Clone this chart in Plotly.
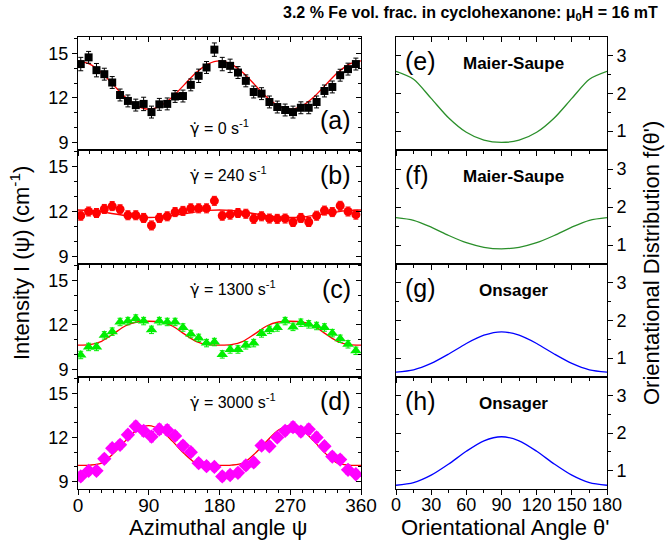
import plotly.graph_objects as go

# ---------------- data ----------------
psi = [3.5, 13.5, 23.5, 33.5, 43.5, 53.5, 63.5, 73.5, 83.5, 93.5, 103.5, 113.5,
       123.5, 133.5, 143.5, 153.5, 163.5, 173.5, 183.5, 193.5, 203.5, 213.5, 223.5, 233.5,
       243.5, 253.5, 263.5, 273.5, 283.5, 293.5, 303.5, 313.5, 323.5, 333.5, 343.5, 353.5]

I_a = [14.28, 14.73, 13.87, 13.6, 13.04, 12.2, 11.8, 11.52, 11.6, 11.05, 11.57, 11.6,
       12.1, 12.13, 12.88, 13.49, 14.05, 15.25, 14.28, 14.16, 13.71, 13.15, 12.4, 12.29,
       11.73, 11.39, 11.19, 11.05, 11.34, 11.34, 11.73, 12.47, 12.74, 13.53, 13.94, 14.28]
err_a = [0.45, 0.4, 0.45, 0.4, 0.4, 0.4, 0.4, 0.4, 0.45, 0.4, 0.4, 0.4,
         0.4, 0.4, 0.4, 0.45, 0.4, 0.45, 0.45, 0.45, 0.4, 0.4, 0.4, 0.4,
         0.4, 0.4, 0.4, 0.4, 0.4, 0.4, 0.4, 0.4, 0.4, 0.4, 0.4, 0.4]

I_b = [11.72, 12.0, 11.9, 12.17, 12.36, 12.15, 11.75, 11.75, 11.57, 11.07, 11.57, 11.68,
       11.96, 12.04, 12.21, 12.21, 12.21, 12.71, 11.72, 11.79, 11.9, 11.85, 11.51, 11.68,
       11.53, 11.51, 11.53, 11.3, 11.57, 11.3, 11.72, 12.06, 11.96, 12.38, 12.0, 11.79]
err_b = [0.3, 0.3, 0.3, 0.3, 0.3, 0.3, 0.3, 0.3, 0.3, 0.3, 0.3, 0.3,
         0.3, 0.3, 0.3, 0.3, 0.3, 0.3, 0.3, 0.3, 0.3, 0.3, 0.3, 0.3,
         0.3, 0.3, 0.3, 0.3, 0.3, 0.3, 0.3, 0.3, 0.3, 0.3, 0.3, 0.3]

I_c = [9.98, 10.52, 10.52, 11.3, 11.55, 12.2, 12.26, 12.43, 12.26, 11.67, 12.26, 12.2,
       12.2, 11.83, 11.39, 11.13, 10.78, 10.85, 10.02, 10.35, 10.35, 10.63, 10.78, 11.43,
       11.67, 11.83, 12.26, 11.87, 12.15, 12.04, 11.93, 11.83, 11.45, 11.07, 10.7, 10.26]
err_c = [0.25, 0.25, 0.25, 0.25, 0.25, 0.25, 0.25, 0.25, 0.25, 0.25, 0.25, 0.25,
         0.25, 0.25, 0.25, 0.25, 0.25, 0.25, 0.25, 0.25, 0.25, 0.25, 0.25, 0.25,
         0.25, 0.25, 0.25, 0.25, 0.25, 0.25, 0.25, 0.25, 0.25, 0.25, 0.25, 0.25]

I_d = [9.35, 9.73, 9.73, 10.55, 11.27, 11.5, 12.18, 12.75, 12.45, 12.05, 12.55, 12.5,
       12.1, 11.45, 11.0, 10.25, 10.05, 10.0, 9.35, 9.45, 9.6, 10.1, 10.3, 11.45,
       11.4, 12.0, 12.45, 12.7, 12.4, 12.55, 12.0, 11.4, 10.7, 10.5, 9.8, 9.5]
err_d = [0.3, 0.3, 0.3, 0.3, 0.3, 0.3, 0.3, 0.35, 0.35, 0.35, 0.35, 0.35,
         0.3, 0.3, 0.3, 0.3, 0.3, 0.3, 0.3, 0.3, 0.3, 0.3, 0.3, 0.3,
         0.3, 0.3, 0.3, 0.35, 0.35, 0.35, 0.35, 0.3, 0.3, 0.3, 0.3, 0.3]

psi_fit = [0, 15, 30, 45, 60, 75, 90, 105, 120, 135, 150, 165, 180,
           195, 210, 225, 240, 255, 270, 285, 300, 315, 330, 345, 360]
fit_a = [14.5, 14.28, 13.69, 12.88, 12.06, 11.47, 11.25, 11.47, 12.06, 12.88, 13.69, 14.28, 14.5,
         14.28, 13.69, 12.88, 12.06, 11.47, 11.25, 11.47, 12.06, 12.88, 13.69, 14.28, 14.5]
fit_b = [12.1, 12.07, 11.98, 11.85, 11.73, 11.63, 11.6, 11.63, 11.73, 11.85, 11.98, 12.07, 12.1,
         12.07, 11.98, 11.85, 11.73, 11.63, 11.6, 11.63, 11.73, 11.85, 11.98, 12.07, 12.1]
fit_c = [10.65, 10.68, 10.9, 11.4, 11.93, 12.2, 12.25, 12.2, 11.93, 11.4, 10.9, 10.68, 10.65,
         10.68, 10.9, 11.4, 11.93, 12.2, 12.25, 12.2, 11.93, 11.4, 10.9, 10.68, 10.65]
fit_d = [10.1, 10.12, 10.25, 10.9, 11.75, 12.5, 12.8, 12.5, 11.75, 10.9, 10.25, 10.12, 10.1,
         10.12, 10.25, 10.9, 11.75, 12.5, 12.8, 12.5, 11.75, 10.9, 10.25, 10.12, 10.1]

theta = [0, 15, 30, 45, 60, 75, 90, 105, 120, 135, 150, 165, 180]
dist_e = [2.59, 2.38, 1.87, 1.35, 0.97, 0.76, 0.70, 0.76, 0.97, 1.35, 1.87, 2.38, 2.59]
dist_f = [1.72, 1.65, 1.47, 1.25, 1.06, 0.94, 0.90, 0.94, 1.06, 1.25, 1.47, 1.65, 1.72]
dist_g = [0.63, 0.69, 0.86, 1.11, 1.39, 1.61, 1.70, 1.61, 1.39, 1.11, 0.86, 0.69, 0.63]
dist_h = [0.60, 0.67, 0.87, 1.17, 1.51, 1.79, 1.90, 1.79, 1.51, 1.17, 0.87, 0.67, 0.60]

GAMMA_DOT = "<span style='font-family:DejaVu Sans'>γ̇</span>"
shear_labels = [GAMMA_DOT + " = 0 s<sup>-1</sup>", GAMMA_DOT + " = 240 s<sup>-1</sup>",
                GAMMA_DOT + " = 1300 s<sup>-1</sup>", GAMMA_DOT + " = 3000 s<sup>-1</sup>"]
panel_left = ["(a)", "(b)", "(c)", "(d)"]
panel_right = ["(e)", "(f)", "(g)", "(h)"]
model_names = ["Maier-Saupe", "Maier-Saupe", "Onsager", "Onsager"]

# ---------------- styling ----------------
FONT = "Liberation Sans, Arial, sans-serif"
W, H = 667, 542
rows_px = [(37, 150), (150, 264), (264, 377), (377, 489)]
left_px = (78, 361)
right_px = (396, 607)

def fx(px):
    return px / W

def fy(px):
    return 1 - px / H

fig = go.Figure()

series = [(I_a, err_a, fit_a, "black", "square", 8),
          (I_b, err_b, fit_b, "#ff0000", "circle", 9),
          (I_c, err_c, fit_c, "#00ee00", "triangle-up", 10),
          (I_d, err_d, fit_d, "#ff00ff", "diamond", 11)]
dists = [(dist_e, "#2a8f2a"), (dist_f, "#2a8f2a"), (dist_g, "#0000ff"), (dist_h, "#0000ff")]

layout = dict(width=W, height=H, margin=dict(l=0, r=0, t=0, b=0, autoexpand=False),
              paper_bgcolor="white", plot_bgcolor="white", showlegend=False,
              font=dict(family=FONT, color="black"))

annotations = []

def axname(n):
    return "" if n == 1 else str(n)

for i in range(4):
    top, bot = rows_px[i]
    ydom = [fy(bot), fy(top)]
    last = (i == 3)
    # ---------- left panel ----------
    k = i + 1
    vals, errs, fit, col, sym, size = series[i]
    fig.add_trace(go.Scatter(x=psi_fit, y=fit, mode="lines",
                             line=dict(color="#ff0000", width=1.3, shape="spline", smoothing=0.8),
                             xaxis="x" + axname(k), yaxis="y" + axname(k), hoverinfo="skip"))
    fig.add_trace(go.Scatter(x=psi, y=vals, mode="markers",
                             marker=dict(color=col, symbol=sym, size=size, line=dict(width=0)),
                             error_y=dict(type="data", array=errs, color=col, thickness=1, width=2.5),
                             xaxis="x" + axname(k), yaxis="y" + axname(k)))
    layout["xaxis" + axname(k)] = dict(
        domain=[fx(left_px[0]), fx(left_px[1])], anchor="y" + axname(k), range=[0, 360],
        tick0=0, dtick=90, showticklabels=last, ticks="outside", ticklen=5, tickwidth=1, tickcolor="black",
        minor=dict(dtick=15, tick0=0, ticks="outside", ticklen=3, tickcolor="black"),
        showline=True, linecolor="black", linewidth=1, mirror=True, showgrid=False, zeroline=False,
        ticklabelstandoff=-6,
        tickfont=dict(size=19, family=FONT, color="black"), fixedrange=True, automargin=False)
    layout["yaxis" + axname(k)] = dict(
        domain=ydom, anchor="x" + axname(k), range=[8.5, 16.1],
        tickvals=[9, 12, 15], ticks="outside", ticklen=5, tickwidth=1, tickcolor="black",
        minor=dict(tickvals=[10, 11, 13, 14, 16], ticks="outside", ticklen=3, tickcolor="black"),
        showline=True, linecolor="black", linewidth=1, mirror=True, showgrid=False, zeroline=False,
        tickfont=dict(size=18, family=FONT, color="black"), fixedrange=True, automargin=False)
    ko = k + 8
    layout["xaxis" + str(ko)] = dict(
        overlaying="x" + axname(k), side="top", anchor="y" + axname(k), range=[0, 360],
        tick0=0, dtick=90, showticklabels=False, ticks="inside", ticklen=5, tickcolor="black",
        minor=dict(dtick=15, tick0=0, ticks="inside", ticklen=3, tickcolor="black"),
        showline=False, showgrid=False, zeroline=False, fixedrange=True)
    layout["yaxis" + str(ko)] = dict(
        overlaying="y" + axname(k), side="right", anchor="x" + axname(k), range=[8.5, 16.1],
        tickvals=[9, 12, 15], showticklabels=False, ticks="inside", ticklen=5, tickcolor="black",
        minor=dict(tickvals=[10, 11, 13, 14, 16], ticks="inside", ticklen=3, tickcolor="black"),
        showline=False, showgrid=False, zeroline=False, fixedrange=True)
    fig.add_trace(go.Scatter(x=[None], y=[None], xaxis="x" + str(ko), yaxis="y" + axname(k),
                             showlegend=False, hoverinfo="skip"))
    fig.add_trace(go.Scatter(x=[None], y=[None], xaxis="x" + axname(k), yaxis="y" + str(ko),
                             showlegend=False, hoverinfo="skip"))

    lab_y = 10.5 if i == 0 else 14.45
    gam_y = 10.0 if i == 0 else 14.45
    annotations.append(dict(x=350, y=lab_y, xref="x" + axname(k), yref="y" + axname(k), text=panel_left[i],
                            showarrow=False, xanchor="right", yanchor="middle", font=dict(size=25, family=FONT)))
    annotations.append(dict(x=140, y=gam_y, xref="x" + axname(k), yref="y" + axname(k), text=shear_labels[i],
                            showarrow=False, xanchor="left", yanchor="middle", font=dict(size=16, family=FONT)))

    # ---------- right panel ----------
    k2 = i + 5
    dvals, dcol = dists[i]
    fig.add_trace(go.Scatter(x=theta, y=dvals, mode="lines",
                             line=dict(color=dcol, width=1.3, shape="spline", smoothing=0.8),
                             xaxis="x" + str(k2), yaxis="y" + str(k2), hoverinfo="skip"))
    layout["xaxis" + str(k2)] = dict(
        domain=[fx(right_px[0]), fx(right_px[1])], anchor="y" + str(k2), range=[0, 180],
        tick0=0, dtick=30, showticklabels=last, ticks="outside", ticklen=5, tickwidth=1, tickcolor="black",
        minor=dict(dtick=15, tick0=0, ticks="outside", ticklen=3, tickcolor="black"),
        showline=True, linecolor="black", linewidth=1, mirror=True, showgrid=False, zeroline=False,
        ticklabelstandoff=-6,
        tickfont=dict(size=18, family=FONT, color="black"), fixedrange=True, automargin=False)
    layout["yaxis" + str(k2)] = dict(
        domain=ydom, anchor="x" + str(k2), range=[0.5, 3.5], side="right",
        tickvals=[1, 2, 3], ticks="outside", ticklen=5, tickwidth=1, tickcolor="black",
        minor=dict(tickvals=[1.5, 2.5], ticks="outside", ticklen=3, tickcolor="black"),
        showline=True, linecolor="black", linewidth=1, mirror=True, showgrid=False, zeroline=False,
        tickfont=dict(size=18, family=FONT, color="black"), fixedrange=True, automargin=False)
    ko2 = k2 + 8
    layout["xaxis" + str(ko2)] = dict(
        overlaying="x" + str(k2), side="top", anchor="y" + str(k2), range=[0, 180],
        tick0=0, dtick=30, showticklabels=False, ticks="inside", ticklen=5, tickcolor="black",
        minor=dict(dtick=15, tick0=0, ticks="inside", ticklen=3, tickcolor="black"),
        showline=False, showgrid=False, zeroline=False, fixedrange=True)
    layout["yaxis" + str(ko2)] = dict(
        overlaying="y" + str(k2), side="left", anchor="x" + str(k2), range=[0.5, 3.5],
        tickvals=[1, 2, 3], showticklabels=False, ticks="inside", ticklen=5, tickcolor="black",
        minor=dict(tickvals=[1.5, 2.5], ticks="inside", ticklen=3, tickcolor="black"),
        showline=False, showgrid=False, zeroline=False, fixedrange=True)
    fig.add_trace(go.Scatter(x=[None], y=[None], xaxis="x" + str(ko2), yaxis="y" + str(k2),
                             showlegend=False, hoverinfo="skip"))
    fig.add_trace(go.Scatter(x=[None], y=[None], xaxis="x" + str(k2), yaxis="y" + str(ko2),
                             showlegend=False, hoverinfo="skip"))

    annotations.append(dict(x=6, y=2.85, xref="x" + str(k2), yref="y" + str(k2), text=panel_right[i],
                            showarrow=False, xanchor="left", yanchor="middle", font=dict(size=25, family=FONT)))
    annotations.append(dict(x=100, y=2.8, xref="x" + str(k2), yref="y" + str(k2),
                            text="<b>" + model_names[i] + "</b>",
                            showarrow=False, xanchor="center", yanchor="middle", font=dict(size=17, family=FONT)))

annotations += [
    dict(x=fx(660), y=fy(14), xref="paper", yref="paper", xanchor="right", yanchor="middle", showarrow=False,
         text="<b>3.2 % Fe vol. frac. in cyclohexanone: μ<sub>0</sub>H = 16 mT</b>", font=dict(size=16, family=FONT)),
    dict(x=fx(20), y=fy(263), xref="paper", yref="paper", xanchor="center", yanchor="middle", showarrow=False,
         textangle=-90, text="Intensity I (ψ) (cm<sup>-1</sup>)", font=dict(size=22, family=FONT)),
    dict(x=fx(651), y=fy(263), xref="paper", yref="paper", xanchor="center", yanchor="middle", showarrow=False,
         textangle=-90, text="Orientational Distribution f(θ')", font=dict(size=22, family=FONT)),
    dict(x=fx(218), y=fy(527), xref="paper", yref="paper", xanchor="center", yanchor="middle", showarrow=False,
         text="Azimuthal angle ψ", font=dict(size=22, family=FONT)),
    dict(x=fx(505), y=fy(527), xref="paper", yref="paper", xanchor="center", yanchor="middle", showarrow=False,
         text="Orientational Angle θ'", font=dict(size=22, family=FONT)),
]
layout["annotations"] = annotations
fig.update_layout(**layout)
fig.write_html("out.html", config={"displayModeBar": False},
               post_script="document.body.style.margin='0';document.body.style.overflow='hidden';")
